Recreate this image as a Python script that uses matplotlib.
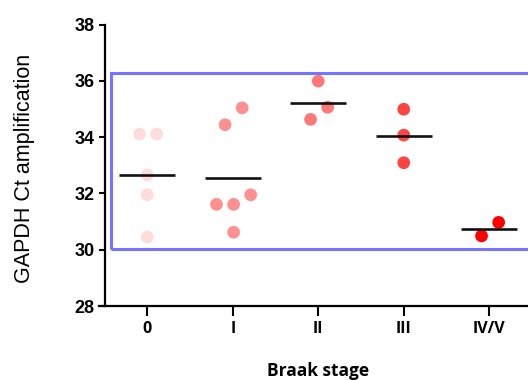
import matplotlib
matplotlib.use("Agg")
import matplotlib.pyplot as plt
from matplotlib.patches import Rectangle
import numpy as np

categories = ["0", "I", "II", "III", "IV/V"]
values = [
    [34.11, 34.11, 32.65, 31.95, 30.45],
    [35.04, 34.44, 31.95, 31.61, 31.61, 30.62],
    [35.99, 35.06, 34.63],
    [34.99, 34.07, 33.09],
    [30.97, 30.49],
]
jitter = [
    [-0.09, 0.11, 0.0, 0.0, 0.0],
    [0.11, -0.09, 0.21, -0.19, 0.01, 0.01],
    [0.0, 0.11, -0.09],
    [0.0, 0.0, 0.0],
    [0.11, -0.09],
]
colors = ["#ffdcdc", "#ff9090", "#ff7878", "#ff4444", "#ff0000"]
yticks = [28, 30, 32, 34, 36, 38]

fig = plt.figure(figsize=(5.28, 3.8), dpi=100)
ax = fig.add_axes([104.5 / 528, 1 - 306 / 380, 427.5 / 528, (306 - 24.5) / 380])

for i, (vals, jit, c) in enumerate(zip(values, jitter, colors)):
    xs = [i + j for j in jit]
    ax.scatter(xs, vals, s=84, color=c, edgecolors="none", zorder=3)
    m = np.mean(vals)
    ax.plot([i - 0.33, i + 0.33], [m, m], color="#111111", lw=1.9, zorder=4,
            solid_capstyle="butt")

rect = Rectangle((-0.427, 30.01), 5.2, 36.29 - 30.01, fill=False,
                 edgecolor="#7474ff", lw=2.2, zorder=2, clip_on=False)
ax.add_patch(rect)

ax.set_xlim(-0.5, 4.5)
ax.set_ylim(28, 38)
ax.set_yticks(yticks)
ax.set_yticklabels([str(t) for t in yticks], fontfamily="Liberation Sans",
                   fontweight="bold", fontsize=13)
ax.set_xticks(range(len(categories)))
ax.set_xticklabels(categories, fontfamily="Open Sans", fontweight="bold",
                   fontsize=11.5)
ax.tick_params(axis="y", length=4, width=1.5, pad=3, color="black")
ax.tick_params(axis="x", length=7, width=1.5, pad=4, color="black")

for s in ["top", "right"]:
    ax.spines[s].set_visible(False)
for s in ["left", "bottom"]:
    ax.spines[s].set_linewidth(1.6)
ax.spines["bottom"].set_bounds(-0.57, 4.6)

ax.set_ylabel("GAPDH Ct amplification", fontfamily="Liberation Sans",
              fontsize=15.5, va="center")
ax.yaxis.set_label_coords(-0.188, 0.49)

fig.text(318 / 528, 1 - 362 / 380, "Braak stage", fontfamily="Open Sans",
         fontweight="bold", fontsize=12.5, ha="center", va="top")

fig.savefig("out.png", dpi=100)
